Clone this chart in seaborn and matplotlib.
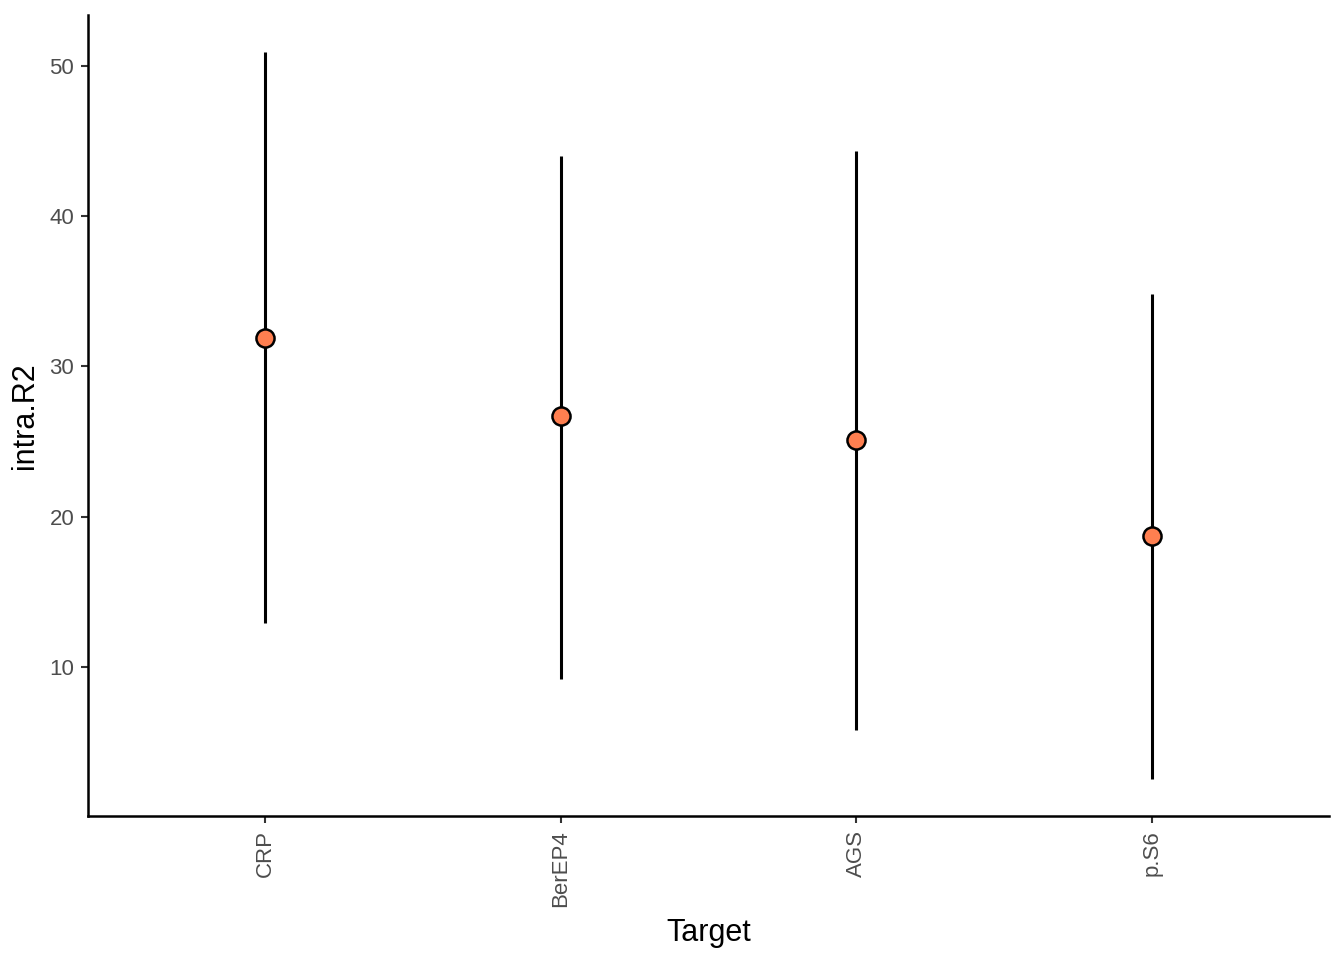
import matplotlib
matplotlib.use('Agg')
import pandas as pd
import seaborn as sns
import matplotlib.pyplot as plt

# values
targets = ['CRP', 'BerEP4', 'AGS', 'p.S6']
intra_r2 = [31.9, 26.7, 25.1, 18.7]
lower = [12.9, 9.2, 5.8, 2.5]
upper = [50.9, 44.0, 44.3, 34.8]

df = pd.DataFrame({'Target': targets, 'intra.R2': intra_r2, 'lower': lower, 'upper': upper})

sns.set_style('white')
plt.rcParams['font.family'] = ['Liberation Sans', 'DejaVu Sans']

fig = plt.figure(figsize=(13.44, 9.6), dpi=100)
ax = fig.add_axes([0.0655, 0.15, 0.9234, 0.834])

# intervals
ax.vlines(df['Target'], df['lower'], df['upper'], color='black', linewidth=2.2, zorder=2)
# points
sns.scatterplot(data=df, x='Target', y='intra.R2', ax=ax, s=170, color='#FF7F50',
                edgecolor='black', linewidth=1.8, zorder=3)

ax.set_xlim(-0.6, 3.6)
ax.set_ylim(0.07, 53.35)
ax.set_yticks([10, 20, 30, 40, 50])

for side in ['top', 'right']:
    ax.spines[side].set_visible(False)
for side in ['left', 'bottom']:
    ax.spines[side].set_color('black')
    ax.spines[side].set_linewidth(1.8)

ax.tick_params(axis='both', which='major', length=5, width=1.5, color='#333333', pad=5,
               labelsize=16, labelcolor='#4D4D4D', direction='out', left=True, bottom=True)
ax.tick_params(axis='x', labelrotation=90)
ax.set_xlabel('Target', fontsize=22, color='black', labelpad=8)
ax.set_ylabel('intra.R2', fontsize=22, color='black', labelpad=7)

fig.savefig('out.png', dpi=100)
